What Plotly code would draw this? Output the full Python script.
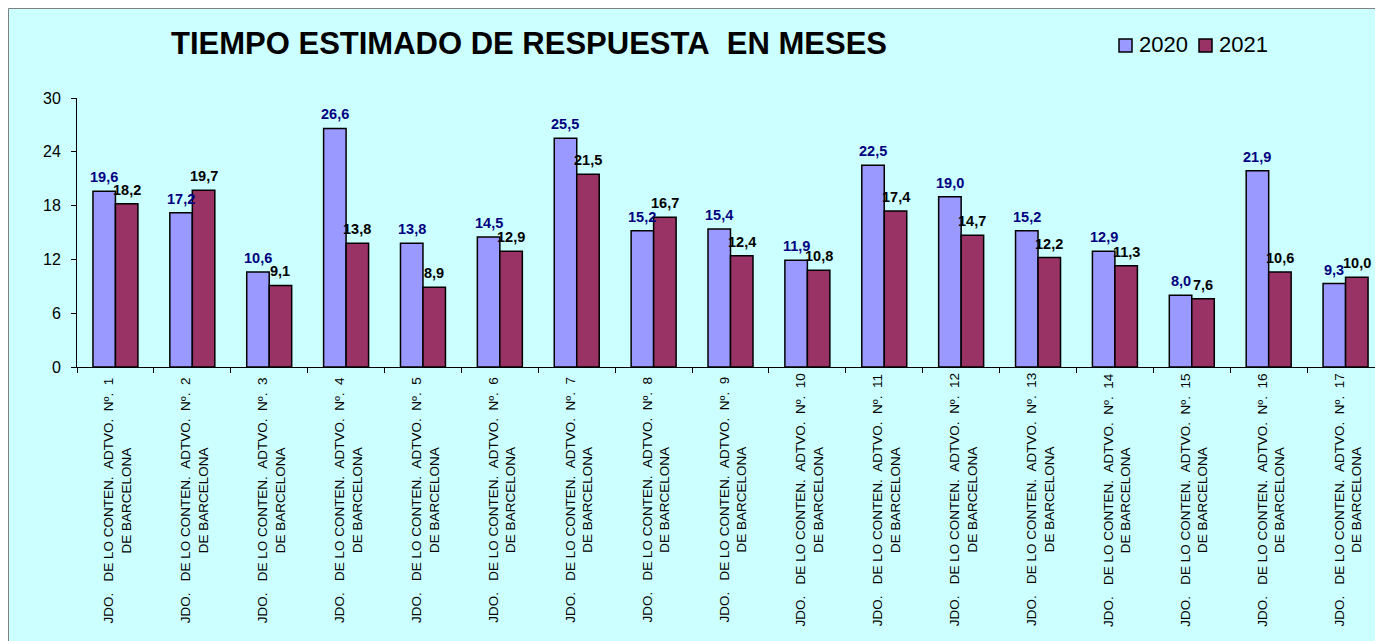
import plotly.graph_objects as go

NB = "\u00a0"
juzgados = list(range(1, 18))
categories = [f"JDO.{NB}{NB}{NB}DE LO CONTEN.{NB}{NB}ADTVO.{NB}{NB}Nº.{NB}{NB}{n}" for n in juzgados]
line2 = "DE BARCELONA"

values_2020 = [19.6, 17.2, 10.6, 26.6, 13.8, 14.5, 25.5, 15.2, 15.4, 11.9, 22.5, 19.0, 15.2, 12.9, 8.0, 21.9, 9.3]
values_2021 = [18.2, 19.7, 9.1, 13.8, 8.9, 12.9, 21.5, 16.7, 12.4, 10.8, 17.4, 14.7, 12.2, 11.3, 7.6, 10.6, 10.0]
series_names = ["2020", "2021"]
y_ticks = [0, 6, 12, 18, 24, 30]

title_text = f"TIEMPO ESTIMADO DE RESPUESTA{NB} EN MESES"

FONT = "Arial, Liberation Sans, Helvetica, sans-serif"
BG = "#CCFFFF"
C2020 = "#9999FF"
C2021 = "#993366"

# geometry (figure pixels)
W, H = 1376, 633
ML, MR, MT, MB = 69, 0, 90, 274
PW = W - ML - MR
PH = H - MT - MB


def px_x(page_x):
    return (page_x - 8 - ML) / PW


def px_y(page_y):
    return (MT + PH - (page_y - 8)) / PH


fig = go.Figure()
fig.add_trace(go.Bar(name=series_names[0], x=categories, y=values_2020,
                     marker=dict(color=C2020, line=dict(color="black", width=1.5))))
fig.add_trace(go.Bar(name=series_names[1], x=categories, y=values_2021,
                     marker=dict(color=C2021, line=dict(color="black", width=1.5))))

annotations = []
cat_w = PW / len(categories)
bargap = 0.415
bar_w = cat_w * (1 - bargap) / 2
fmt = lambda v: f"{v:.1f}".replace(".", ",")
for cat, v1, v2 in zip(categories, values_2020, values_2021):
    annotations.append(dict(x=cat, y=v1, xref="x", yref="y", text=fmt(v1), showarrow=False,
                            xanchor="center", yanchor="bottom", xshift=-bar_w / 2, yshift=4,
                            font=dict(family=FONT, size=14.5, color="#000080", weight="bold")))
    annotations.append(dict(x=cat, y=v2, xref="x", yref="y", text=fmt(v2), showarrow=False,
                            xanchor="center", yanchor="bottom", xshift=bar_w / 2, yshift=4,
                            font=dict(family=FONT, size=14.5, color="black", weight="bold")))
    # category label (rotated, two centred lines)
    annotations.append(dict(x=cat, y=px_y(500), xref="x", yref="paper", text=f"{cat}<br>{line2}",
                            showarrow=False, textangle=-90, align="center",
                            xanchor="center", yanchor="middle", xshift=2,
                            font=dict(family=FONT, size=13.5, color="black")))

# manual legend
shapes = []
leg = [(1119, 1137, C2020, series_names[0]), (1199, 1217, C2021, series_names[1])]
for sx, tx, col, name in leg:
    shapes.append(dict(type="rect", xref="paper", yref="paper",
                       x0=px_x(sx), x1=px_x(sx + 13), y0=px_y(52), y1=px_y(39),
                       fillcolor=col, line=dict(color="black", width=1.5)))
    annotations.append(dict(x=px_x(tx), y=px_y(45), xref="paper", yref="paper", text=name,
                            showarrow=False, xanchor="left", yanchor="middle",
                            font=dict(family=FONT, size=22, color="black")))

# outer border of chart area
shapes.append(dict(type="rect", xref="paper", yref="paper",
                   x0=(-ML + 0.5) / PW, x1=(PW + MR + 5) / PW,
                   y0=-(MB + 5) / PH, y1=1 + (MT - 0.5) / PH,
                   line=dict(color="#7F7F7F", width=1), fillcolor="rgba(0,0,0,0)", layer="below"))

fig.update_layout(
    width=W, height=H,
    margin=dict(l=ML, r=MR, t=MT, b=MB, pad=0),
    paper_bgcolor=BG, plot_bgcolor=BG,
    barmode="group", bargap=bargap, bargroupgap=0,
    showlegend=False,
    title=dict(text=title_text, x=px_x(529), xref="paper", xanchor="center",
               y=1 - (43.5 - 8) / H, yref="container", yanchor="middle",
               font=dict(family=FONT, size=31, color="black", weight="bold")),
    font=dict(family=FONT, color="black"),
    annotations=annotations,
    shapes=shapes,
)
fig.update_xaxes(type="category", showline=True, linecolor="black", linewidth=1,
                 ticks="outside", ticklen=5, tickcolor="black", tickson="boundaries",
                 showticklabels=False, showgrid=False, zeroline=False)
fig.update_yaxes(range=[0, 30], tickvals=y_ticks, showline=True, linecolor="black", linewidth=1,
                 ticks="outside", ticklen=5, tickcolor="black", ticklabelstandoff=7,
                 tickfont=dict(family=FONT, size=16, color="black"),
                 showgrid=False, zeroline=False)

fig.write_html("out.html", config={"displayModeBar": False})
